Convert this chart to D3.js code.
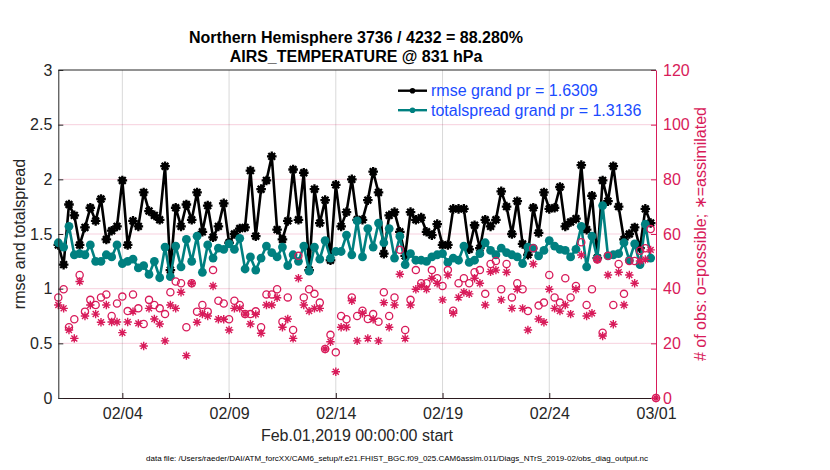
<!DOCTYPE html>
<html>
<head>
<meta charset="utf-8">
<script src="https://cdn.jsdelivr.net/npm/d3@7.9.0/dist/d3.min.js"></script>
<style>
  body { margin: 0; background: #fff; }
  svg { font-family: "Liberation Sans", Arial, Helvetica, sans-serif; }
</style>
</head>
<body>
<svg id="chart" width="830" height="470"></svg>
<script>
/* ── data ──────────────────────────────────────────────────────── */
const startDate = new Date(Date.UTC(2019, 1, 1));
const endDate   = new Date(Date.UTC(2019, 2, 1));
const tickDates = ['2019-02-04', '2019-02-09', '2019-02-14', '2019-02-19', '2019-02-24', '2019-03-01'];
const leftTicks  = [0, 0.5, 1, 1.5, 2, 2.5, 3];
const rightTicks = [0, 20, 40, 60, 80, 100, 120];

// 6-hourly bins, Feb 01 00Z onward
const rmse = [
  1.40, 1.22, 1.77, 1.67, 1.40, 1.56, 1.74, 1.62, 1.82, 1.45,
  1.53, 1.57, 1.99, 1.40, 1.62, 1.57, 1.88, 1.71, 1.67, 1.63,
  2.12, 1.17, 1.74, 1.57, 1.77, 1.63, 1.88, 1.52, 1.76, 1.47,
  1.57, 1.78, 1.42, 1.50, 1.55, 1.56, 2.08, 1.48, 1.91, 1.99,
  2.21, 1.54, 1.45, 1.62, 2.09, 1.63, 2.06, 1.17, 1.91, 1.60,
  1.81, 1.26, 1.95, 1.57, 1.70, 2.00, 1.63, 1.63, 1.81, 2.07,
  1.88, 1.32, 1.67, 1.70, 1.52, 1.30, 1.70, 1.63, 1.65, 1.52,
  1.49, 1.59, 1.40, 1.40, 1.73, 1.73, 1.73, 1.36, 1.58, 1.37,
  1.63, 1.57, 1.63, 1.89, 1.75, 1.50, 1.80, 1.41, 1.31, 1.74,
  1.51, 1.88, 1.73, 1.74, 1.93, 1.57, 1.61, 1.64, 2.13, 1.54,
  1.85, 1.28, 1.99, 1.80, 2.12, 1.75, 1.45, 1.50, 1.56, 1.37,
  1.73, 1.60
];
const spread = [
  1.42, 1.38, 1.57, 1.31, 1.32, 1.31, 1.40, 1.25, 1.25, 1.31,
  1.29, 1.40, 1.23, 1.25, 1.27, 1.19, 1.21, 1.13, 1.25, 1.10,
  1.38, 1.11, 1.39, 1.20, 1.45, 1.25, 1.48, 1.15, 1.40, 1.28,
  1.37, 1.36, 1.41, 1.36, 1.46, 1.18, 1.29, 1.17, 1.28, 1.39,
  1.33, 1.29, 1.38, 1.21, 1.31, 1.25, 1.39, 1.16, 1.38, 1.27,
  1.44, 1.28, 1.34, 1.34, 1.49, 1.31, 1.62, 1.29, 1.55, 1.38,
  1.60, 1.42, 1.55, 1.28, 1.48, 1.22, 1.32, 1.26, 1.26, 1.25,
  1.29, 1.31, 1.32, 1.24, 1.28, 1.26, 1.39, 1.24, 1.26, 1.32,
  1.42, 1.35, 1.31, 1.37, 1.33, 1.31, 1.29, 1.23, 1.38, 1.37,
  1.30, 1.35, 1.44, 1.39, 1.36, 1.35, 1.29, 1.36, 1.57, 1.20,
  1.48, 1.28, 1.76, 1.30, 1.31, 1.32, 1.42, 1.26, 1.41, 1.22,
  1.59, 1.28
];
const obsPossible = [
  36.8, 39.8, 25.9, 28.8, 45.0, 31.6, 35.9, 34.0, 36.8, 37.9,
  30.0, 34.6, 37.1, 31.8, 37.9, 32.8, 27.1, 35.9, 34.0, 32.8,
  30.7, 38.7, 42.6, 42.0, 25.9, 42.0, 31.6, 34.0, 31.6, 46.8,
  35.6, 34.6, 28.8, 35.6, 34.0, 30.7, 30.7, 31.7, 25.9, 37.9,
  37.9, 39.8, 27.9, 36.8, 24.9, 52.0, 36.8, 39.8, 38.1, 34.9,
  17.9, 23.1, 16.7, 30.0, 28.8, 36.8, 30.0, 31.9, 28.9, 30.7,
  27.9, 38.7, 30.0, 36.8, 54.2, 24.9, 35.9, 46.8, 42.0, 42.0,
  46.8, 43.8, 41.0, 46.8, 31.9, 42.0, 43.8, 42.0, 46.0, 46.8,
  38.1, 49.0, 50.1, 39.8, 49.0, 36.8, 42.0, 39.8, 31.8, 54.8,
  33.8, 34.9, 45.0, 36.8, 34.9, 43.8, 36.8, 41.0, 57.0, 34.0,
  39.8, 50.7, 23.9, 52.0, 34.0, 49.0, 38.1, 50.1, 50.1, 53.9,
  54.8, 61.8, 0
];
const obsAssim = [
  34.0, 32.8, 24.9, 21.8, 42.6, 30.0, 34.0, 30.7, 27.7, 34.0,
  27.8, 27.8, 23.9, 27.8, 31.6, 27.3, 19.0, 32.8, 28.9, 27.1,
  20.9, 34.0, 32.8, 38.7, 15.5, 42.0, 27.7, 30.7, 30.0, 41.0,
  28.8, 28.8, 24.9, 32.8, 32.8, 30.7, 27.1, 30.6, 23.7, 34.0,
  34.0, 36.7, 25.9, 28.9, 21.8, 43.8, 34.0, 31.8, 32.8, 32.8,
  17.9, 20.6, 9.6, 25.9, 25.9, 35.6, 20.9, 31.0, 21.8, 28.8,
  20.9, 34.9, 25.9, 34.0, 45.3, 21.8, 34.0, 39.8, 41.0, 39.8,
  43.8, 42.0, 35.9, 45.0, 31.0, 36.8, 38.7, 38.1, 43.8, 42.0,
  34.0, 46.2, 46.8, 35.9, 46.0, 32.8, 39.8, 32.8, 24.9, 49.0,
  28.9, 27.7, 39.8, 32.8, 31.8, 34.0, 30.7, 39.8, 52.3, 30.0,
  31.0, 50.7, 22.7, 45.0, 27.0, 46.0, 34.0, 45.0, 42.0, 50.1,
  50.7, 54.2, 0
];

const titleLines = ['Northern Hemisphere 3736 / 4232 = 88.280%', 'AIRS_TEMPERATURE @ 831 hPa'];
const legendLabels = ['rmse grand pr = 1.6309', 'totalspread grand pr = 1.3136'];
const dataFile = 'data file: /Users/raeder/DAI/ATM_forcXX/CAM6_setup/f.e21.FHIST_BGC.f09_025.CAM6assim.011/Diags_NTrS_2019-02/obs_diag_output.nc';

/* ── layout / colours ─────────────────────────────────────────── */
const L = 58.3, R = 656, T = 70, B = 398;
const black = '#000000', teal = '#008080', pink = '#d81b5a', axisCol = '#262626';
const binTime = i => new Date(startDate.getTime() + i * 6 * 3600 * 1000);

const svg = d3.select('#chart');

const x  = d3.scaleUtc().domain([startDate, endDate]).range([L, R]);
const yL = d3.scaleLinear().domain([0, 3]).range([B, T]);
const yR = d3.scaleLinear().domain([0, 120]).range([B, T]);

/* grid ------------------------------------------------------------ */
const ticks = tickDates.map(s => new Date(s + 'T00:00:00Z'));
svg.append('g').selectAll('line')
   .data(ticks.slice(0, -1))
   .join('line')
     .attr('x1', d => x(d)).attr('x2', d => x(d))
     .attr('y1', T).attr('y2', B)
     .attr('stroke', '#d9d9d9').attr('stroke-width', 1);

svg.append('g').selectAll('line')
   .data(rightTicks.slice(1, -1))
   .join('line')
     .attr('x1', L).attr('x2', R)
     .attr('y1', d => yR(d)).attr('y2', d => yR(d))
     .attr('stroke', pink).attr('stroke-opacity', 0.2).attr('stroke-width', 1);

/* marker helpers -------------------------------------------------- */
function asterisk(r) {
  const d = r * 0.7071;
  return `M${-r},0L${r},0M0,${-r}L0,${r}M${-d},${-d}L${d},${d}M${-d},${d}L${d},${-d}`;
}

/* left axis series ------------------------------------------------ */
const seriesLine = d3.line().x((d, i) => x(binTime(i))).y(d => yL(d));

svg.append('path')
   .datum(rmse)
   .attr('d', seriesLine)
   .attr('fill', 'none').attr('stroke', black).attr('stroke-width', 2.6)
   .attr('stroke-linejoin', 'round');

const rm = svg.append('g').selectAll('g')
   .data(rmse)
   .join('g')
     .attr('transform', (d, i) => `translate(${x(binTime(i))},${yL(d)})`);
rm.append('circle').attr('r', 3.4).attr('fill', black);
rm.append('path').attr('d', asterisk(4.8)).attr('stroke', black).attr('stroke-width', 2.3);

svg.append('path')
   .datum(spread)
   .attr('d', seriesLine)
   .attr('fill', 'none').attr('stroke', teal).attr('stroke-width', 2.6)
   .attr('stroke-linejoin', 'round');

svg.append('g').selectAll('circle')
   .data(spread)
   .join('circle')
     .attr('cx', (d, i) => x(binTime(i)))
     .attr('cy', d => yL(d))
     .attr('r', 4.4)
     .attr('fill', teal);

/* right axis series (obs counts) ---------------------------------- */
svg.append('g').selectAll('circle')
   .data(obsPossible)
   .join('circle')
     .attr('cx', (d, i) => x(binTime(i)))
     .attr('cy', d => yR(d))
     .attr('r', 3.6)
     .attr('fill', 'none').attr('stroke', pink).attr('stroke-width', 1.3);

svg.append('g').selectAll('path')
   .data(obsAssim)
   .join('path')
     .attr('transform', (d, i) => `translate(${x(binTime(i))},${yR(d)})`)
     .attr('d', asterisk(4.2))
     .attr('stroke', pink).attr('stroke-width', 1.4);

/* axes ------------------------------------------------------------ */
const fmt = d3.utcFormat('%m/%d');

const gx = svg.append('g')
   .attr('transform', `translate(0,${B})`)
   .call(d3.axisBottom(x).tickValues(ticks).tickFormat(fmt)
           .tickSizeInner(-5).tickSizeOuter(0).tickPadding(10));
gx.select('.domain').attr('stroke', '#2b1a1e');
gx.selectAll('.tick line').attr('stroke', '#2b1a1e');
gx.selectAll('text').attr('font-size', 16).attr('fill', axisCol).attr('font-family', null);

const gl = svg.append('g')
   .attr('transform', `translate(${L},0)`)
   .call(d3.axisLeft(yL).tickValues(leftTicks).tickFormat(d3.format('~g'))
           .tickSizeInner(-5).tickSizeOuter(0).tickPadding(6));
gl.select('.domain').attr('stroke', axisCol);
gl.selectAll('.tick line').attr('stroke', axisCol);
gl.selectAll('text').attr('font-size', 16).attr('fill', axisCol).attr('font-family', null);

const gr = svg.append('g')
   .attr('transform', `translate(${R},0)`)
   .call(d3.axisRight(yR).tickValues(rightTicks)
           .tickSizeInner(-5).tickSizeOuter(0).tickPadding(7));
gr.select('.domain').attr('stroke', pink);
gr.selectAll('.tick line').attr('stroke', pink);
gr.selectAll('text').attr('font-size', 16).attr('fill', pink).attr('font-family', null);

// top edge of the box
svg.append('line')
   .attr('x1', L).attr('x2', R).attr('y1', T).attr('y2', T)
   .attr('stroke', axisCol).attr('stroke-width', 1);

/* legend ---------------------------------------------------------- */
const leg = svg.append('g').selectAll('g')
   .data(legendLabels)
   .join('g')
     .attr('transform', (d, i) => `translate(0,${90.7 + i * 19.5})`);
leg.append('line')
   .attr('x1', 398).attr('x2', 427)
   .attr('stroke', (d, i) => i ? teal : black).attr('stroke-width', 2.4);
leg.append('circle')
   .attr('cx', 412.5).attr('r', 2.8)
   .attr('fill', (d, i) => i ? teal : black);
leg.append('text')
   .attr('x', 431).attr('dy', '0.35em')
   .attr('font-size', 16).attr('fill', '#1a4cff')
   .text(d => d);

/* titles and labels ----------------------------------------------- */
svg.append('g').selectAll('text')
   .data(titleLines)
   .join('text')
     .attr('x', 356).attr('y', (d, i) => 42.5 + i * 19)
     .attr('text-anchor', 'middle')
     .attr('font-size', 16).attr('font-weight', 'bold').attr('fill', '#000')
     .text(d => d);

svg.append('text')
   .attr('transform', `translate(24.5,${(T + B) / 2}) rotate(-90)`)
   .attr('text-anchor', 'middle')
   .attr('font-size', 16).attr('fill', axisCol)
   .text('rmse and totalspread');

svg.append('text')
   .attr('transform', `translate(706,${(T + B) / 2}) rotate(-90)`)
   .attr('text-anchor', 'middle')
   .attr('font-size', 16).attr('fill', pink)
   .text('# of obs: o=possible; \u2217=assimilated');

svg.append('text')
   .attr('x', 357).attr('y', 441)
   .attr('text-anchor', 'middle')
   .attr('font-size', 16).attr('fill', axisCol)
   .text('Feb.01,2019 00:00:00 start');

svg.append('text')
   .attr('x', 397).attr('y', 461)
   .attr('text-anchor', 'middle')
   .attr('font-size', 8).attr('fill', '#000')
   .text(dataFile);
</script>
</body>
</html>
